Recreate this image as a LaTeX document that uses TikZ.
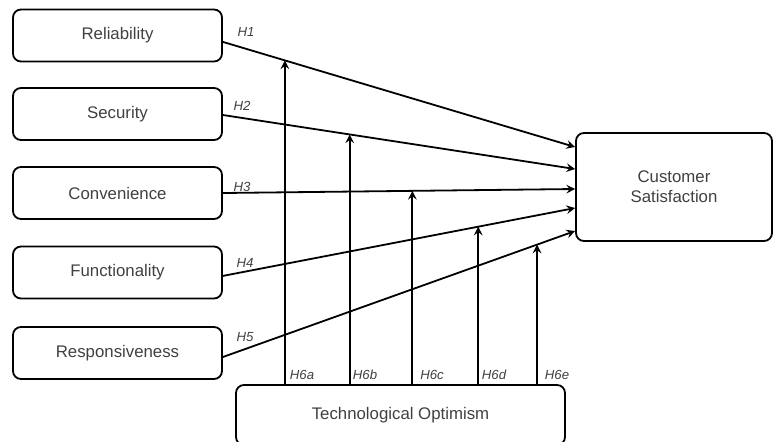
\documentclass[tikz,border=0pt]{standalone}
\usepackage{fontspec}
\setmainfont{Liberation Sans}
\usetikzlibrary{calc}
\tikzset{>=stealth}
\tikzset{box/.style={draw, line width=0.9pt, rounded corners=4pt, text=black!75, font=\fontsize{8.4}{10}\selectfont}}
\tikzset{hyp/.style={font=\fontsize{6.6}{8}\selectfont\itshape, text=black!75}}

\begin{document}
\begin{tikzpicture}[x=0.5pt, y=-0.5pt, line width=0.9pt]
    \useasboundingbox (0,0) rectangle (773,441);
    \node[box, minimum width=104.5pt, minimum height=26pt] (rel) at (117.5,35.5) {Reliability};
    \node[box, minimum width=104.5pt, minimum height=26pt] (sec) at (117.5,114) {Security};
    \node[box, minimum width=104.5pt, minimum height=26pt] (con) at (117.5,193) {Convenience};
    \node[box, minimum width=104.5pt, minimum height=26pt] (fun) at (117.5,272.5) {Functionality};
    \node[box, minimum width=104.5pt, minimum height=26pt] (res) at (117.5,353) {Responsiveness};
    \node[box, minimum width=98pt, minimum height=54pt, align=center] (cs) at (674,187) {Customer\\Satisfaction};
    \node[box, minimum width=164.5pt, minimum height=30pt] (tech) at (400.5,415) {Technological Optimism};
    % direct effects
    \draw[->] ([yshift=-3.2pt]rel.east) -- ($(cs.west)+(0,-40)$) coordinate[pos=0.176] (m1);
    \draw[->] ([yshift=-0.5pt]sec.east) -- ($(cs.west)+(0,-18)$) coordinate[pos=0.36] (m2);
    \draw[->] (con.east) -- ($(cs.west)+(0,2)$) coordinate[pos=0.538] (m3);
    \draw[->] ([yshift=-1.7pt]fun.east) -- ($(cs.west)+(0,21)$) coordinate[pos=0.725] (m4);
    \draw[->] ([yshift=-2pt]res.east) -- ($(cs.west)+(0,44)$) coordinate[pos=0.892] (m5);
    % moderation
    \draw[->] (m1 |- tech.north) -- (m1);
    \draw[->] (m2 |- tech.north) -- (m2);
    \draw[->] (m3 |- tech.north) -- (m3);
    \draw[->] (m4 |- tech.north) -- (m4);
    \draw[->] (m5 |- tech.north) -- (m5);
    \node[hyp] (h1) at (246,32) {H1};
    \node[hyp] (h2) at (242,106) {H2};
    \node[hyp] (h3) at (242,187) {H3};
    \node[hyp] (h4) at (245,263) {H4};
    \node[hyp] (h5) at (245,337) {H5};
    \node[hyp] (h6a) at (302,375) {H6a};
    \node[hyp] (h6b) at (365,375) {H6b};
    \node[hyp] (h6c) at (432,375) {H6c};
    \node[hyp] (h6d) at (494,375) {H6d};
    \node[hyp] (h6e) at (557,375) {H6e};
\end{tikzpicture}
\end{document}
